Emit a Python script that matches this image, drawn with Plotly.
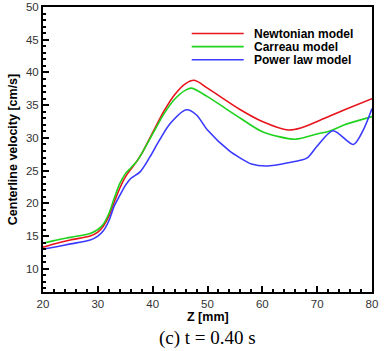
import plotly.graph_objects as go

# Centerline velocity vs axial position, t = 0.40 s
z_newt = [20, 22, 25, 28.6, 30, 31, 32, 33, 34, 35, 36, 37, 38, 40, 42, 44, 46, 47.6, 50, 56, 60, 64.7, 67, 70, 72.3, 75, 80]
v_newt = [13.3, 13.8, 14.4, 15.0, 15.6, 16.5, 18.0, 20.2, 22.3, 24.0, 25.2, 26.3, 27.6, 30.8, 34.0, 36.6, 38.3, 38.8, 37.6, 34.3, 32.5, 31.2, 31.5, 32.5, 33.35, 34.3, 36.0]

z_carr = [20, 22, 25, 28.6, 30, 31, 32, 33, 34, 35, 36, 37, 38, 40, 42, 44, 46, 47.1, 50, 56, 60, 66, 70, 72.3, 75, 80]
v_carr = [13.9, 14.3, 14.8, 15.4, 16.0, 16.8, 18.4, 20.8, 23.0, 24.5, 25.4, 26.3, 27.6, 30.6, 33.6, 35.9, 37.3, 37.6, 36.3, 33.0, 30.95, 29.8, 30.6, 31.05, 32.0, 33.25]

z_pow = [20, 22, 25, 28.6, 30, 31, 32, 33, 34, 35, 36, 37.7, 39.5, 41, 43.2, 46.2, 48, 50, 54, 56, 58, 60.8, 64.7, 68.1, 69.9, 72.9, 76.6, 78.4, 80]
v_pow = [13.0, 13.3, 13.8, 14.4, 15.0, 15.8, 17.3, 19.6, 21.2, 22.7, 23.8, 24.8, 27.1, 29.3, 32.2, 34.3, 33.5, 31.2, 28.0, 26.9, 26.0, 25.7, 26.2, 26.9, 28.65, 31.1, 29.0, 31.2, 34.5]

names = ["Newtonian model", "Carreau model", "Power law model"]
colors = ["#e8141c", "#1ed21e", "#3a3aff"]

fig = go.Figure()
for z, v, name, c in zip([z_newt, z_carr, z_pow], [v_newt, v_carr, v_pow], names, colors):
    fig.add_trace(go.Scatter(x=z, y=v, mode="lines", name=name,
                             line=dict(color=c, width=1.6, shape="spline", smoothing=0.8)))

axis_font = dict(family="Liberation Sans, Arial", size=11.5, color="#333333")
title_font = dict(family="Liberation Sans, Arial", size=12.5, color="black")

fig.update_xaxes(range=[20, 80], tickvals=[20, 30, 40, 50, 60, 70, 80],
                 ticks="inside", ticklen=6, tickwidth=1.5, tickcolor="black",
                 minor=dict(dtick=2, ticks="inside", ticklen=3, tickcolor="black"),
                 showline=True, linecolor="black", linewidth=2, mirror=True,
                 showgrid=False, zeroline=False, tickfont=axis_font)
fig.update_yaxes(range=[6.45, 50], tickvals=[10, 15, 20, 25, 30, 35, 40, 45, 50],
                 ticks="inside", ticklen=6, tickwidth=1.5, tickcolor="black",
                 minor=dict(dtick=1, ticks="inside", ticklen=3, tickcolor="black"),
                 showline=True, linecolor="black", linewidth=2, mirror=True,
                 showgrid=False, zeroline=False, tickfont=axis_font,
                 title=dict(text="<b>Centerline velocity [cm/s]</b>",
                            font=dict(family="Liberation Sans, Arial", size=12.5, color="black"),
                            standoff=6))

# legend drawn by hand to get the long sample lines
for i, (name, c) in enumerate(zip(names, colors)):
    yp = 0.907 - i * 0.046
    fig.add_shape(type="line", xref="paper", yref="paper", x0=0.452, x1=0.61, y0=yp, y1=yp,
                  line=dict(color=c, width=1.6))
    fig.add_annotation(text="<b>%s</b>" % name, xref="paper", yref="paper", x=0.634, y=yp,
                       xanchor="left", yanchor="middle", showarrow=False,
                       font=dict(family="Liberation Sans, Arial", size=12, color="black"))

# x title and caption below the plot
fig.add_annotation(text="<b>Z [mm]</b>", xref="paper", yref="paper", x=0.5, y=-0.089,
                   xanchor="center", yanchor="middle", showarrow=False, font=title_font)
fig.add_annotation(text="(c) t = 0.40 s", xref="paper", yref="paper", x=0.5, y=-0.162,
                   xanchor="center", yanchor="middle", showarrow=False,
                   font=dict(family="Liberation Serif, Times New Roman", size=19, color="black"))

fig.update_layout(width=384, height=351, showlegend=False,
                  margin=dict(l=43, r=12, t=7, b=59, autoexpand=False),
                  plot_bgcolor="white", paper_bgcolor="white")

fig.write_html("out.html", config={"displayModeBar": False},
               post_script="document.body.style.margin='0';")
